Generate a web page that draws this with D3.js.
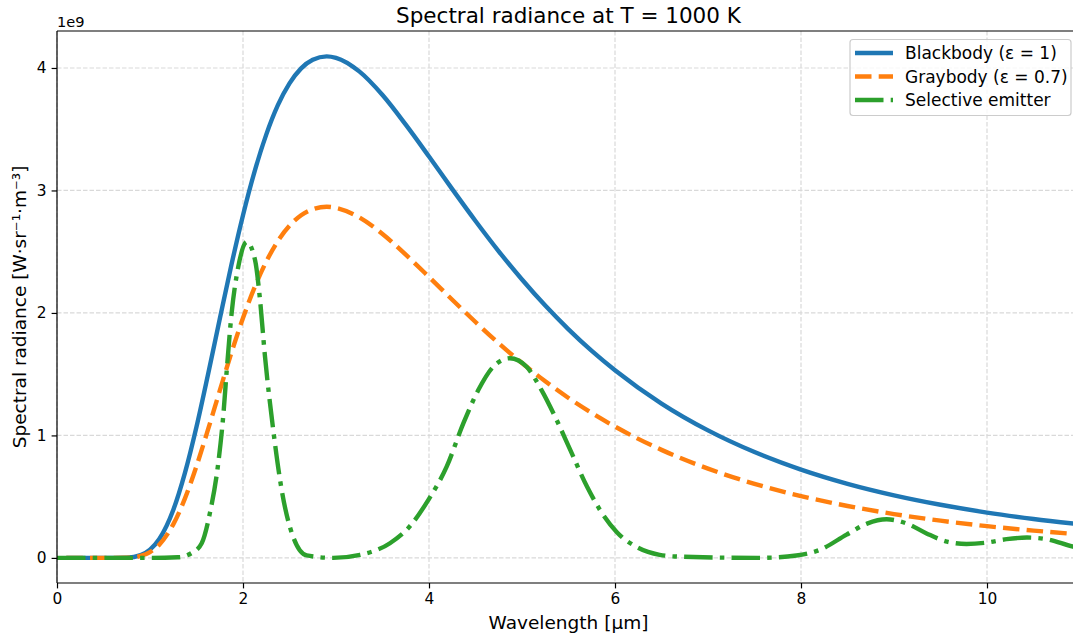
<!DOCTYPE html>
<html>
<head>
<meta charset="utf-8">
<script src="https://cdn.jsdelivr.net/npm/d3@7"></script>
<style>
  html, body { margin: 0; padding: 0; background: #fff; }
  svg { display: block; font-family: "DejaVu Sans", sans-serif; }
</style>
</head>
<body>
<svg id="chart" width="1073" height="635"></svg>
<script>
// ---- Data (values in units of 1e9 W·sr⁻¹·m⁻³) ----
const wavelengthBB = [0.1, 0.5, 0.75, 0.9, 1.0, 1.1, 1.25, 1.375, 1.5, 1.625, 1.75, 1.875, 2.0, 2.125, 2.25, 2.375, 2.5, 2.625, 2.75, 2.9, 3.0, 3.25, 3.5, 3.75, 4.0, 4.25, 4.5, 4.75, 5.0, 5.25, 5.5, 5.75, 6.0, 6.5, 7.0, 7.5, 8.0, 8.5, 9.0, 9.5, 10.0, 10.5, 11.0];
const blackbody = [0, 0, 0.002, 0.023, 0.067, 0.154, 0.391, 0.692, 1.071, 1.502, 1.950, 2.391, 2.798, 3.156, 3.456, 3.696, 3.874, 3.997, 4.067, 4.095, 4.083, 3.972, 3.779, 3.537, 3.277, 3.011, 2.751, 2.503, 2.273, 2.060, 1.866, 1.690, 1.532, 1.260, 1.041, 0.864, 0.721, 0.605, 0.511, 0.434, 0.370, 0.318, 0.274];
const graybody = [0, 0, 0.001, 0.016, 0.047, 0.108, 0.274, 0.484, 0.750, 1.051, 1.365, 1.674, 1.959, 2.209, 2.419, 2.587, 2.712, 2.798, 2.847, 2.867, 2.858, 2.780, 2.645, 2.476, 2.294, 2.108, 1.926, 1.752, 1.591, 1.442, 1.306, 1.183, 1.072, 0.882, 0.729, 0.605, 0.505, 0.424, 0.358, 0.304, 0.259, 0.223, 0.192];
const wavelengthSel = [0.0, 1.0, 1.3, 1.448, 1.556, 1.645, 1.735, 1.79, 1.825, 1.878, 1.95, 2.04, 2.13, 2.18, 2.237, 2.326, 2.416, 2.54, 2.685, 2.97, 3.258, 3.58, 3.796, 3.99, 4.19, 4.37, 4.53, 4.69, 4.87, 5.05, 5.21, 5.37, 5.52, 5.70, 5.84, 6.02, 6.23, 6.48, 6.7, 7.56, 7.95, 8.2, 8.49, 8.71, 8.92, 9.14, 9.35, 9.57, 9.78, 10.0, 10.21, 10.43, 10.64, 10.925, 11.0];
const selective = [0, 0, 0.005, 0.04, 0.12, 0.37, 0.78, 1.18, 1.53, 2.0, 2.38, 2.58, 2.43, 2.13, 1.64, 1.04, 0.555, 0.17, 0.02, 0.0, 0.025, 0.12, 0.26, 0.47, 0.745, 1.10, 1.37, 1.56, 1.63, 1.56, 1.37, 1.13, 0.88, 0.58, 0.39, 0.21, 0.09, 0.025, 0.01, 0.0, 0.02, 0.065, 0.19, 0.28, 0.315, 0.28, 0.20, 0.133, 0.114, 0.125, 0.153, 0.166, 0.153, 0.092, 0.08];
const xTicks = [0, 2, 4, 6, 8, 10];
const yTicks = [0, 1, 2, 3, 4];
const seriesNames = ["Blackbody (ε = 1)", "Graybody (ε = 0.7)", "Selective emitter"];
const seriesColors = ["#1f77b4", "#ff7f0e", "#2ca02c"];
const seriesDash = [null, "16.5,7.2", "28.5,7.2,4.5,7.2"];

// ---- Layout ----
const svg = d3.select("#chart");
const L = 57, R = 1080, T = 31, B = 583;
const x = d3.scaleLinear().domain([0, 11]).range([L, R]);
const y = d3.scaleLinear().domain([-0.2049, 4.3019]).range([B, T]);

svg.append("defs").append("clipPath").attr("id", "clip")
  .append("rect").attr("x", L).attr("y", T).attr("width", R - L).attr("height", B - T);

// grid
const grid = svg.append("g");
grid.selectAll(".gx").data(xTicks).enter().append("line")
  .attr("x1", d => x(d)).attr("x2", d => x(d)).attr("y1", T).attr("y2", B)
  .attr("stroke", "#d9d9d9").attr("stroke-width", 1.2).attr("stroke-dasharray", "4.5,2");
grid.selectAll(".gy").data(yTicks).enter().append("line")
  .attr("x1", L).attr("x2", R).attr("y1", d => y(d)).attr("y2", d => y(d))
  .attr("stroke", "#d9d9d9").attr("stroke-width", 1.2).attr("stroke-dasharray", "4.5,2");

// lines
const line = d3.line().x(d => x(d[0])).y(d => y(d[1])).curve(d3.curveMonotoneX);
const series = [
  d3.zip(wavelengthBB, blackbody),
  d3.zip(wavelengthBB, graybody),
  d3.zip(wavelengthSel, selective)
];
const plot = svg.append("g").attr("clip-path", "url(#clip)");
series.forEach((s, i) => {
  plot.append("path").datum(s).attr("d", line)
    .attr("fill", "none").attr("stroke", seriesColors[i])
    .attr("stroke-width", 4.4)
    .attr("stroke-dasharray", seriesDash[i])
    .attr("stroke-linecap", "butt").attr("stroke-linejoin", "round");
});

// axes
const xAxis = svg.append("g").attr("transform", `translate(0,${B})`)
  .call(d3.axisBottom(x).tickValues(xTicks).tickSize(5.4).tickPadding(5).tickFormat(d3.format("d")));
const yAxis = svg.append("g").attr("transform", `translate(${L},0)`)
  .call(d3.axisLeft(y).tickValues(yTicks).tickSize(5.4).tickPadding(5).tickFormat(d3.format("d")));
[xAxis, yAxis].forEach(a => {
  a.select(".domain").remove();
  a.selectAll("line").attr("stroke", "#000").attr("stroke-width", 1.2);
  a.selectAll("text").attr("font-size", 15.4).attr("fill", "#000")
    .attr("font-family", "DejaVu Sans, sans-serif");
});
// spines
[[L, T, L, B], [L, B, R, B], [L, T, R, T], [R, T, R, B]].forEach(s => {
  svg.append("line").attr("x1", s[0]).attr("y1", s[1]).attr("x2", s[2]).attr("y2", s[3])
    .attr("stroke", "#000").attr("stroke-width", 1.2);
});

// texts
svg.append("text").attr("x", (L + R) / 2).attr("y", 22.5).attr("text-anchor", "middle")
  .attr("font-size", 21.5).text("Spectral radiance at T = 1000 K");
svg.append("text").attr("x", L).attr("y", 27).attr("font-size", 14.6).text("1e9");
svg.append("text").attr("x", (L + R) / 2).attr("y", 629).attr("text-anchor", "middle")
  .attr("font-size", 18.5).text("Wavelength [µm]");
svg.append("text").attr("transform", `translate(26,${(T + B) / 2}) rotate(-90)`)
  .attr("text-anchor", "middle").attr("font-size", 18.5)
  .text("Spectral radiance [W·sr⁻¹·m⁻³]");

// legend
const lg = svg.append("g");
lg.append("rect").attr("x", 850).attr("y", 39.5).attr("width", 221).attr("height", 76).attr("rx", 3)
  .attr("fill", "#fff").attr("fill-opacity", 0.8).attr("stroke", "#cccccc").attr("stroke-width", 1.2);
seriesNames.forEach((n, i) => {
  const yy = 53 + i * 23.5;
  lg.append("line").attr("x1", 855).attr("x2", 893).attr("y1", yy).attr("y2", yy)
    .attr("stroke", seriesColors[i]).attr("stroke-width", 4.4).attr("stroke-dasharray", seriesDash[i]);
  lg.append("text").attr("x", 905).attr("y", yy + 6).attr("font-size", 17).text(n);
});
</script>
</body>
</html>
